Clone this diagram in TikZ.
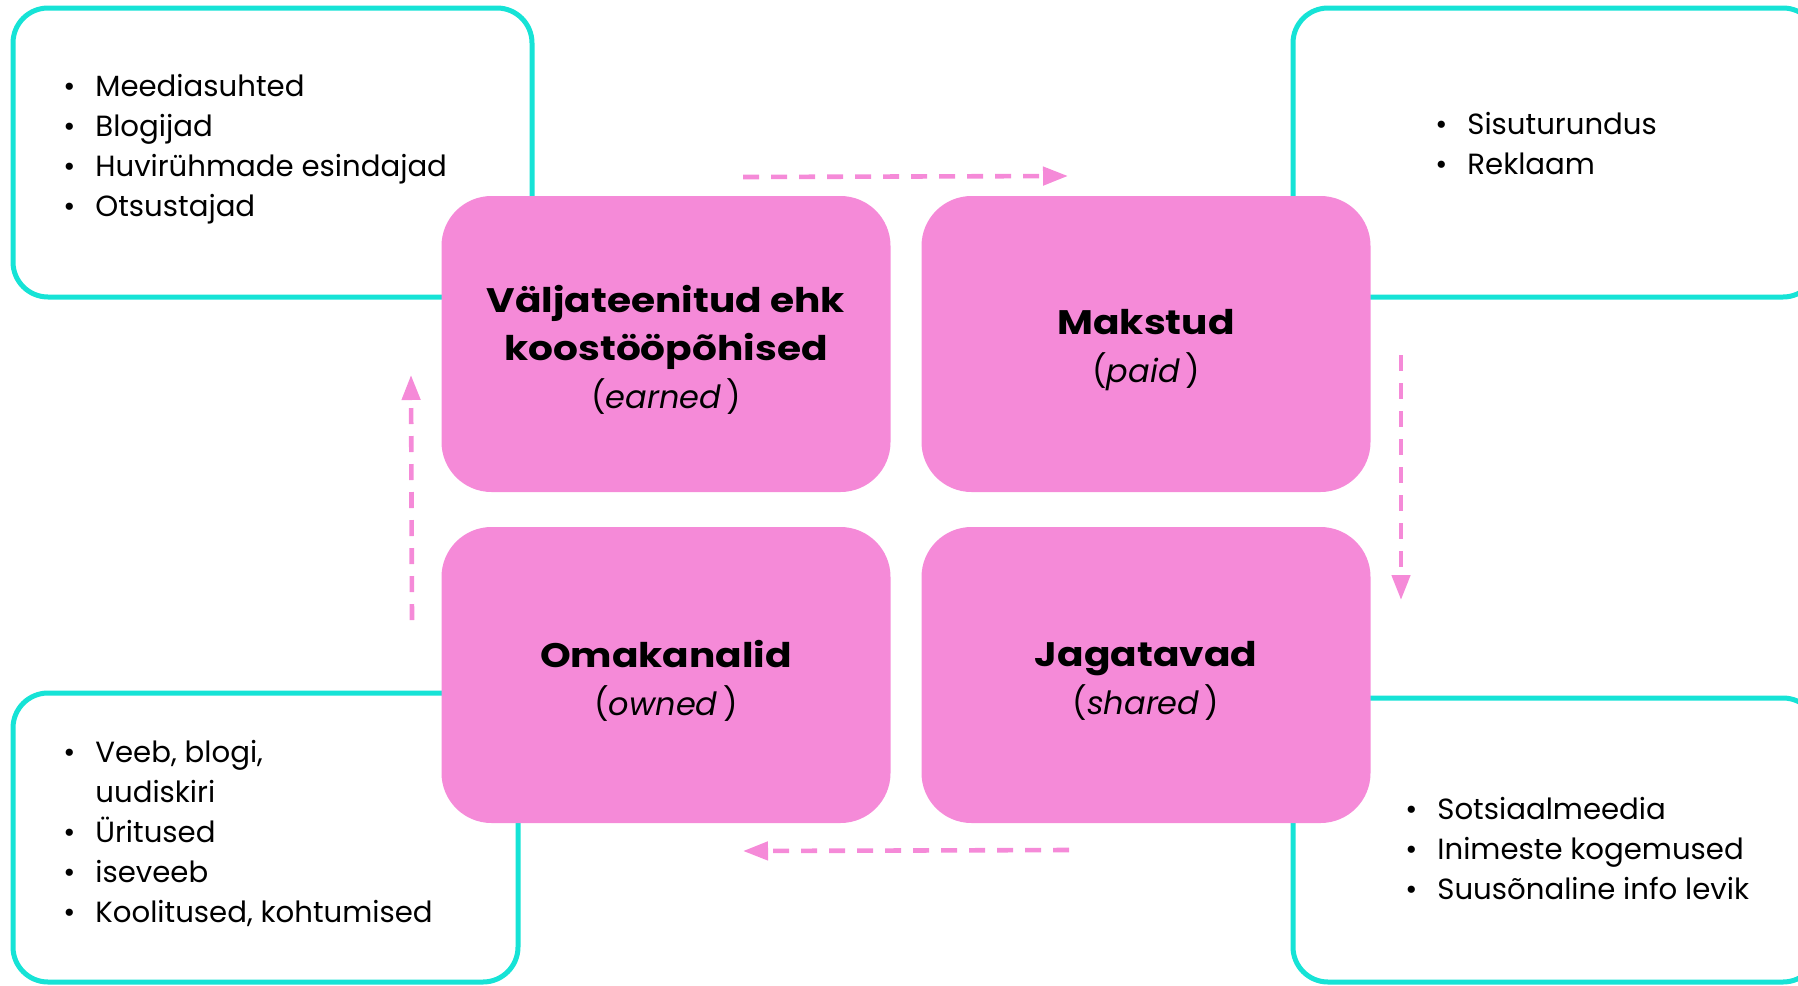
\documentclass[tikz,border=0pt]{standalone}
\usepackage{fontspec}
\setmainfont{Poppins}
\newfontfamily\headfont{Poppins}[FakeStretch=1.15]
\usetikzlibrary{arrows.meta}
\definecolor{PinkClr}{RGB}{245,138,216}
\definecolor{TealClr}{RGB}{22,227,214}

\newcommand\itm{\makebox[9pt]{\textbullet}\hspace{8.5pt}}
\newcommand\engl[1]{{\normalfont\fontsize{16}{23}\selectfont(\textit{#1}\,)}}

\begin{document}
\begin{tikzpicture}[x=0.5pt,y=-0.5pt,
  frame/.style={draw=TealClr,line width=2.5pt,fill=white,rounded corners=17.5pt},
  quad/.style={fill=PinkClr,rounded corners=25pt,minimum width=224.5pt,
    minimum height=148pt,inner sep=0pt},
  head/.style={inner sep=0pt,align=center,
    font=\headfont\bfseries\fontsize{17}{24}\selectfont},
  lst/.style={anchor=north west,inner sep=0pt,font=\fontsize{14.6}{20}\selectfont},
  flow/.style={draw=PinkClr,line width=2.3pt,dash pattern=on 8pt off 6pt,
    -{Triangle[length=12.5pt,width=9pt]}}]
\useasboundingbox (0,0) rectangle (1798,985);
\clip (0,0) rectangle (1798,985);

% list frames
\draw[frame] (13,8) rectangle (532,297);
\draw[frame] (1293,8) rectangle (1818,297);
\draw[frame] (13,693) rectangle (518,982);
\draw[frame] (1293,698) rectangle (1818,982);

% the four quadrants
\node[quad] (earned) at (666,344) {};
\node[quad] (paid) at (1146,344) {};
\node[quad] (owned) at (666,675) {};
\node[quad] (shared) at (1146,675) {};

\node[head] (earnedtxt) at ([yshift=-3pt]earned.center) {V\"aljateenitud ehk\\koost\"o\"op\~ohised\\\engl{earned}};
\node[head] (paidtxt) at ([yshift=-3pt]paid.center) {Makstud\\\engl{paid}};
\node[head] (ownedtxt) at ([yshift=-3pt]owned.center) {Omakanalid\\\engl{owned}};
\node[head] (sharedtxt) at ([yshift=-3pt]shared.center) {Jagatavad\\\engl{shared}};

% lists
\node[lst] (earnedlist) at (60,68) {\begin{tabular}{@{}l@{}}
  \itm Meediasuhted\\ \itm Blogijad\\ \itm Huvir\"uhmade esindajad\\ \itm Otsustajad
  \end{tabular}};
\node[lst] (paidlist) at (1432,106) {\begin{tabular}{@{}l@{}}
  \itm Sisuturundus\\ \itm Reklaam
  \end{tabular}};
\node[lst] (ownedlist) at (60,734) {\begin{tabular}{@{}l@{}}
  \itm Veeb, blogi,\\ \hspace{17.5pt}uudiskiri\\ \itm \"Uritused\\ \itm iseveeb\\
  \itm Koolitused, kohtumised
  \end{tabular}};
\node[lst] (sharedlist) at (1402,791) {\begin{tabular}{@{}l@{}}
  \itm Sotsiaalmeedia\\ \itm Inimeste kogemused\\ \itm Suus\~onaline info levik
  \end{tabular}};

% cycle
\coordinate (t1) at (743,177);
\coordinate (t2) at (1068,176);
\coordinate (r1) at (1401,355);
\coordinate (r2) at (1401,600);
\coordinate (b1) at (1069,850);
\coordinate (b2) at (743,851);
\coordinate (l1) at (412,620);
\coordinate (l2) at (411,375);

\draw[flow] (t1) -- (t2);
\draw[flow] (r1) -- (r2);
\draw[flow] (b1) -- (b2);
\draw[flow] (l1) -- (l2);

\end{tikzpicture}
\end{document}
